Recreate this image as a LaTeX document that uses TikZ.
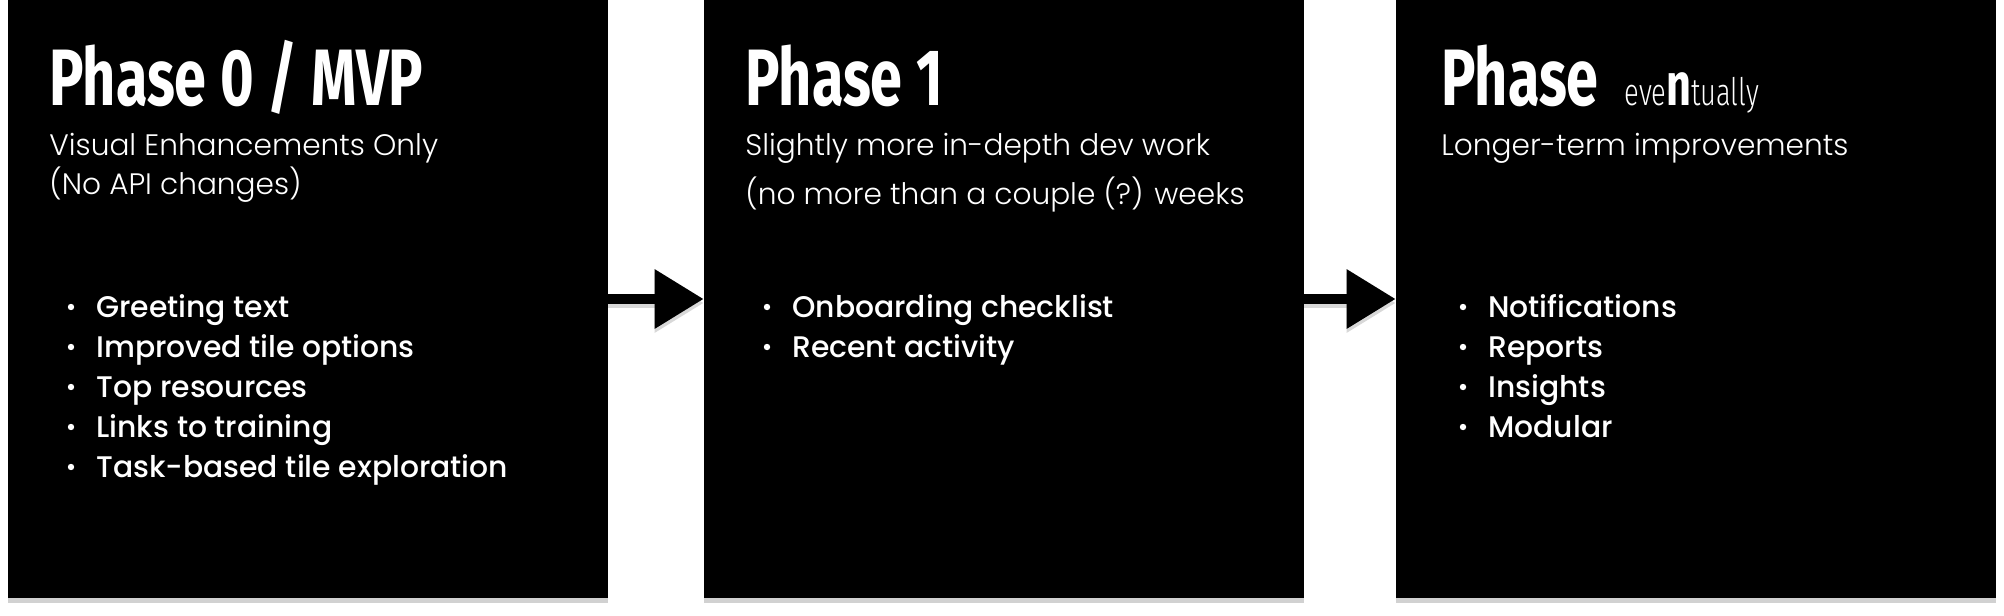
\documentclass[tikz,border=0pt]{standalone}
\usepackage{fontspec}
\setmainfont{Poppins}
\newfontfamily\subfont{Poppins Light}
\newfontfamily\itemfont{Poppins Medium}
\newfontfamily\titlefont[FakeStretch=0.72]{Fira Sans}
\newfontfamily\thinfont[FakeStretch=0.72]{Fira Sans Light}
\usetikzlibrary{arrows.meta}
\usetikzlibrary{shadows}

\begin{document}
\begin{tikzpicture}[x=0.5pt,y=-0.5pt,
	phasebox/.style={fill=black, minimum width=300pt, minimum height=299pt, inner sep=0pt,
		drop shadow={shadow xshift=0pt, shadow yshift=-2.5pt, fill=black, opacity=0.18}},
	title/.style={anchor=base west, text=white, inner sep=0pt, font=\titlefont\bfseries\fontsize{40}{40}\selectfont},
	subtitle/.style={anchor=base west, text=white, inner sep=0pt, font=\subfont\fontsize{14.8}{14.8}\selectfont},
	item/.style={anchor=base west, text=white, inner sep=0pt, font=\itemfont\fontsize{14.9}{14.9}\selectfont},
	flow/.style={line width=5pt, -{Triangle[length=24.5pt, width=28.5pt]}},
	flowshadow/.style={flow, draw=black!30, opacity=0.5}
	]
	\useasboundingbox (0,0) rectangle (2004,616);
	% the three phases
	\node[phasebox] (p0) at (308,299) {};
	\node[phasebox] (p1) at (1004,299) {};
	\node[phasebox] (p2) at (1696,299) {};
	% arrows between them
	\draw[flowshadow] ([yshift=-2pt]p0.east) -- ([yshift=-2pt]p1.west);
	\draw[flowshadow] ([yshift=-2pt]p1.east) -- ([yshift=-2pt]p2.west);
	\draw[flow] (p0.east) -- (p1.west);
	\draw[flow] (p1.east) -- (p2.west);
	% phase 0
	\node[title] (t0) at (49,105) {Phase 0 / MVP};
	\node[subtitle] (s0a) at (49,155) {Visual Enhancements Only};
	\node[subtitle] (s0b) at (49,194) {(No API changes)};
	\foreach \txt [count=\i from 0] in {Greeting text, Improved tile options, Top resources, Links to training, Task-based tile exploration}{
		\fill[white] (71,{307+40*\i}) circle (1.6pt);
		\node[item] (i0-\i) at (96,{317+40*\i}) {\txt};
	}
	% phase 1
	\node[title] (t1) at (745,105) {Phase 1};
	\node[subtitle] (s1a) at (745,155) {Slightly more in-depth dev work};
	\node[subtitle] (s1b) at (745,204) {(no more than a couple (?) weeks};
	\foreach \txt [count=\i from 0] in {Onboarding checklist, Recent activity}{
		\fill[white] (767,{307+40*\i}) circle (1.6pt);
		\node[item] (i1-\i) at (792,{317+40*\i}) {\txt};
	}
	% phase eventually
	\node[title] (t2) at (1441,105) {Phase};
	\node[anchor=base west, text=white, inner sep=0pt] (ev) at (1624,105)
		{{\thinfont\fontsize{19}{19}\selectfont eve}{\titlefont\bfseries\fontsize{30}{30}\selectfont n}{\thinfont\fontsize{19}{19}\selectfont tually}};
	\node[subtitle] (s2a) at (1441,155) {Longer-term improvements};
	\foreach \txt [count=\i from 0] in {Notifications, Reports, Insights, Modular}{
		\fill[white] (1463,{307+40*\i}) circle (1.6pt);
		\node[item] (i2-\i) at (1488,{317+40*\i}) {\txt};
	}
\end{tikzpicture}
\end{document}
